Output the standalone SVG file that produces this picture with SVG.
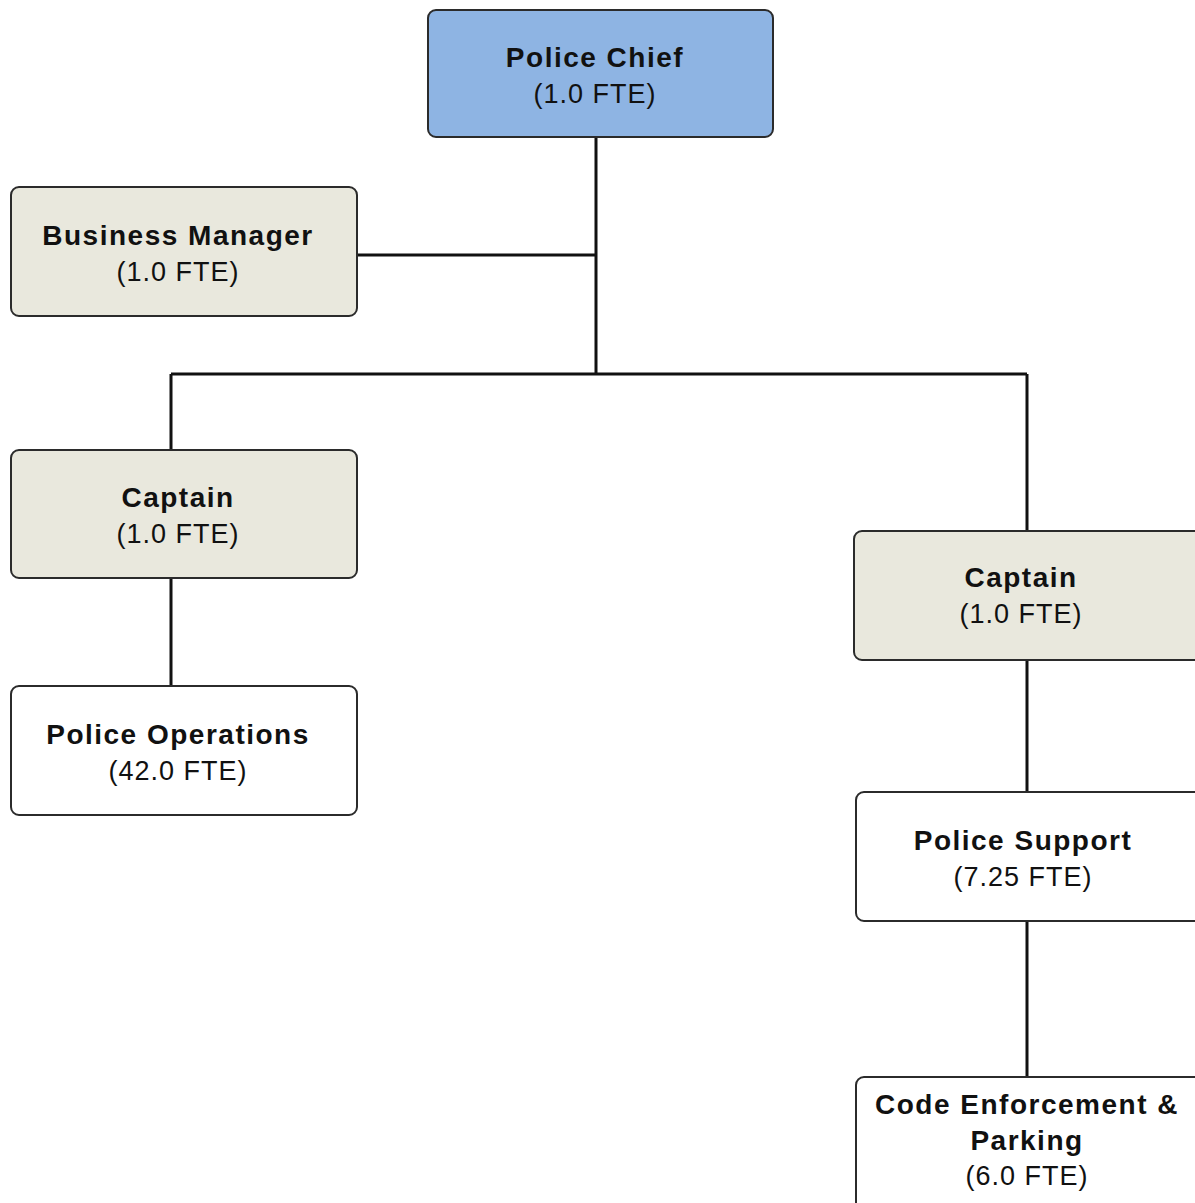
<svg xmlns="http://www.w3.org/2000/svg" width="1195" height="1203" viewBox="0 0 1195 1203">
<style>
.box{stroke:#2b2b2b;stroke-width:2}
.chief{fill:#8eb4e3}
.mgr{fill:#e9e8dd}
.unit{fill:#ffffff}
.t{font-family:"Liberation Sans",Arial,sans-serif;font-size:27px;fill:#111;text-anchor:middle;letter-spacing:1px}
.b{font-weight:bold;font-size:28px;letter-spacing:1.5px}
.conn{stroke:#111;stroke-width:3;fill:none}
</style>
<rect width="1195" height="1203" fill="#ffffff"/>
<g id="connectors">
<path class="conn" d="M596 137V374M357 255H596M171 374H1027M171 374V450M1027 374V531M171 578V686M1027 660V792M1027 921V1077"/>
</g>
<g id="police-chief">
<rect class="box chief" x="428" y="10" width="345" height="127" rx="8"/>
<text class="t b" x="595" y="67">Police Chief</text>
<text class="t" x="595" y="103">(1.0 FTE)</text>
</g>
<g id="business-manager">
<rect class="box mgr" x="11" y="187" width="346" height="129" rx="8"/>
<text class="t b" x="178" y="245">Business Manager</text>
<text class="t" x="178" y="281">(1.0 FTE)</text>
</g>
<g id="captain-left">
<rect class="box mgr" x="11" y="450" width="346" height="128" rx="8"/>
<text class="t b" x="178" y="507">Captain</text>
<text class="t" x="178" y="543">(1.0 FTE)</text>
</g>
<g id="police-operations">
<rect class="box unit" x="11" y="686" width="346" height="129" rx="8"/>
<text class="t b" x="178" y="744">Police Operations</text>
<text class="t" x="178" y="780">(42.0 FTE)</text>
</g>
<g id="captain-right">
<rect class="box mgr" x="854" y="531" width="350" height="129" rx="8"/>
<text class="t b" x="1021" y="587">Captain</text>
<text class="t" x="1021" y="623">(1.0 FTE)</text>
</g>
<g id="police-support">
<rect class="box unit" x="856" y="792" width="350" height="129" rx="8"/>
<text class="t b" x="1023" y="850">Police Support</text>
<text class="t" x="1023" y="886">(7.25 FTE)</text>
</g>
<g id="code-enforcement">
<rect class="box unit" x="856" y="1077" width="350" height="140" rx="8"/>
<text class="t b" x="1027" y="1114">Code Enforcement &amp;</text>
<text class="t b" x="1027" y="1150">Parking</text>
<text class="t" x="1027" y="1185">(6.0 FTE)</text>
</g>
</svg>
